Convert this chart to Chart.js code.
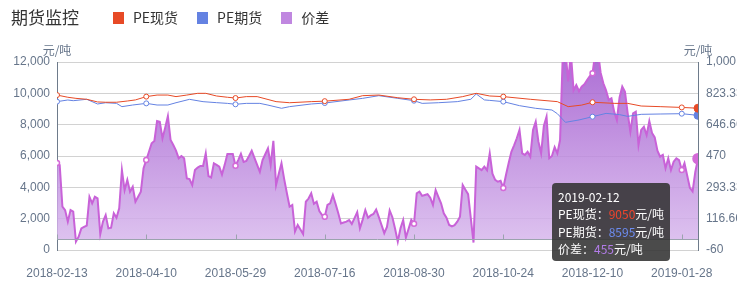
<!DOCTYPE html>
<html>
<head>
<meta charset="utf-8">
<script src="https://cdn.jsdelivr.net/npm/chart.js@4/dist/chart.umd.min.js"></script>
<style>
  html, body { margin: 0; padding: 0; background: #fff; }
  #wrap { position: relative; width: 737px; height: 281px; overflow: hidden; font-family: "Noto Sans CJK SC", "Noto Sans", sans-serif; }
  #chart { position: absolute; left: 0; top: 0; }
  #title { position: absolute; left: 11px; top: 3px; font-size: 17px; line-height: 28px; color: #333; }
  #legend { position: absolute; left: 113px; top: 4px; display: flex; font-size: 14px; line-height: 27px; color: #333; }
  #legend .item { display: flex; align-items: center; margin-right: 19px; }
  #legend .box { width: 11px; height: 12px; margin-right: 9px; }
  #tip { position: absolute; background: rgba(50,50,50,0.88); color: #fff; border-radius: 4px;
         font-size: 12px; line-height: 17.5px; padding: 5px 6px 3px 6px; white-space: nowrap; }
</style>
</head>
<body>
<div id="wrap">
  <canvas id="chart" width="737" height="281"></canvas>
  <div id="title">期货监控</div>
  <div id="legend"></div>
  <div id="tip"></div>
</div>
<script>
// trading-day index of each labelled date, and the labels
const tickDays = [0, 33, 66, 99, 132, 165, 198, 231];
const tickLabels = ["2018-02-13", "2018-04-10", "2018-05-29", "2018-07-16", "2018-08-30", "2018-10-24", "2018-12-10", "2019-01-28"];
const lastDay = 237;
const lastLabel = "2019-02-12";

// PE现货 (元/吨)
const spotDays = [0,4,7,11,15,18,22,26,29,33,37,41,44,48,52,55,59,63,66,70,74,81,86,94,99,108,113,119,126,132,138,144,150,155,160,165,175,185,189,194,198,206,211,216,223,231,237];
const spotPrice = [9890,9750,9680,9620,9450,9430,9430,9510,9580,9790,9890,9890,9790,9890,10000,10000,9830,9750,9700,9790,9790,9470,9400,9470,9500,9620,9850,9890,9720,9620,9580,9620,9790,10000,9830,9790,9620,9470,9150,9250,9430,9360,9360,9190,9150,9100,9050];

// PE期货 (元/吨)
const futDays = [0,4,6,11,15,18,22,24,28,33,37,41,44,49,54,59,63,66,70,75,78,83,86,94,99,108,113,119,126,132,135,141,148,153,155,158,160,165,171,177,183,185,188,193,198,203,208,211,216,223,231,237];
const futPrice = [9470,9575,9530,9620,9320,9400,9360,9150,9255,9360,9255,9255,9400,9617,9468,9404,9360,9300,9360,9360,9250,9045,9150,9320,9380,9575,9680,9850,9680,9530,9360,9400,9470,9620,9960,9580,9550,9470,9213,9043,8936,8700,8150,8300,8510,8720,8640,8530,8660,8680,8700,8595];

// 价差 (元/吨), one value per trading day
const spreadVals = [
  430,419,184,165,100,165,156,-13,15,62,
  70,78,240,203,240,231,30,100,137,62,
  66,147,122,175,391,278,335,269,297,212,
  240,269,401,447,494,542,555,667,663,570,
  630,695,560,532,500,457,470,457,344,340,
  306,391,405,414,414,485,357,349,429,420,
  410,365,420,481,481,481,415,447,482,436,
  442,470,500,460,420,381,447,480,513,420,
  556,306,370,429,340,260,184,194,44,81,
  55,30,212,230,260,200,212,160,137,128,
  194,203,250,200,147,90,95,100,109,87,
  120,153,62,110,165,122,135,143,168,125,
  80,35,70,163,125,60,-13,62,109,10,
  60,110,88,260,269,245,250,255,235,194,
  278,240,203,147,122,81,73,80,100,128,
  306,280,255,120,-18,410,400,390,410,390,
  485,370,335,325,330,290,363,430,494,530,
  570,617,485,476,494,466,617,663,551,485,
  640,692,457,470,520,485,560,1040,1060,890,
  1050,840,870,835,861,874,898,920,936,1050,
  1060,940,880,840,786,795,720,673,800,861,
  832,710,607,711,720,532,617,635,588,667,
  600,575,500,466,476,401,457,391,438,457,
  447,391,430,360,290,270,380,455
];

const spreadTicks = [-60, 116.66, 293.33, 470, 646.66, 823.33, 1000];
const spreadTickLabels = ["-60", "116.66", "293.33", "470", "646.66", "823.33", "1,000"];

const seriesNames = ["PE现货", "PE期货", "价差"];
const seriesColors = ["#e74a26", "#6482e2", "#c087e0"];
const tipColors = ["#f0442c", "#6c8cf0", "#b27ce8"];

const axisColor = "#66758a";
const tickFont = { family: "'Liberation Sans', Arial, sans-serif", size: 12 };

function markerRadius(big) {
  return function (c) {
    const d = c.raw.x;
    if (d === lastDay) return big;
    return tickDays.includes(d) ? 2.5 : 0;
  };
}
function markerFill(color) {
  return function (c) { return c.raw.x === lastDay ? color : "#fff"; };
}

const axisExtras = {
  id: "axisExtras",
  afterDatasetsDraw(chart) {
    const { ctx, chartArea, scales } = chart;
    const y0 = Math.round(scales.y2.getPixelForValue(0)) + 0.5;
    ctx.save();
    ctx.strokeStyle = "#9ba3ae";
    ctx.lineWidth = 1;
    ctx.beginPath();
    ctx.moveTo(chartArea.left, y0);
    ctx.lineTo(chartArea.right, y0);
    tickDays.forEach(function (d) {
      const x = Math.round(scales.x.getPixelForValue(d)) + 0.5;
      ctx.moveTo(x, y0);
      ctx.lineTo(x, y0 - 5);
    });
    ctx.stroke();
    ctx.fillStyle = axisColor;
    ctx.font = "12px 'Noto Sans CJK SC', sans-serif";
    ctx.textAlign = "center";
    ctx.textBaseline = "middle";
    ctx.fillText("元/吨", chartArea.left, chartArea.top - 12);
    ctx.fillText("元/吨", chartArea.right, chartArea.top - 12);
    ctx.restore();
  }
};

const chart = new Chart(document.getElementById("chart"), {
  type: "line",
  data: {
    datasets: [
      {
        label: seriesNames[0],
        data: spotDays.map((d, i) => ({ x: d, y: spotPrice[i] })),
        yAxisID: "y",
        borderColor: seriesColors[0],
        borderWidth: 1,
        pointRadius: markerRadius(4),
        pointBackgroundColor: markerFill(seriesColors[0]),
        pointBorderColor: seriesColors[0],
        pointBorderWidth: 1,
        fill: false
      },
      {
        label: seriesNames[1],
        data: futDays.map((d, i) => ({ x: d, y: futPrice[i] })),
        yAxisID: "y",
        borderColor: seriesColors[1],
        borderWidth: 1,
        pointRadius: markerRadius(4),
        pointBackgroundColor: markerFill(seriesColors[1]),
        pointBorderColor: seriesColors[1],
        pointBorderWidth: 1,
        fill: false
      },
      {
        label: seriesNames[2],
        data: spreadVals.map((v, i) => ({ x: i, y: v })),
        yAxisID: "y2",
        borderColor: "#c862d8",
        borderWidth: 2,
        pointRadius: markerRadius(5),
        pointBackgroundColor: markerFill("#d46ad8"),
        pointBorderColor: "#d46ad8",
        pointBorderWidth: 1.5,
        fill: "origin",
        backgroundColor: function (c) {
          const a = c.chart.chartArea;
          if (!a) return "rgba(180,120,215,0.85)";
          const g = c.chart.ctx.createLinearGradient(0, a.top, 0, a.bottom);
          g.addColorStop(0, "rgba(160,88,206,0.85)");
          g.addColorStop(1, "rgba(218,188,238,0.85)");
          return g;
        }
      }
    ]
  },
  options: {
    responsive: false,
    animation: false,
    events: [],
    layout: { padding: { top: 62, left: 0, right: 0, bottom: 0 } },
    plugins: { legend: { display: false }, tooltip: { enabled: false } },
    scales: {
      x: {
        type: "linear",
        min: 0,
        max: lastDay,
        grid: { display: false },
        border: { display: false },
        afterBuildTicks: s => { s.ticks = tickDays.map(v => ({ value: v })); },
        ticks: {
          autoSkip: false, maxRotation: 0, padding: 8, color: axisColor, font: tickFont,
          callback: v => tickLabels[tickDays.indexOf(v)]
        },
        afterFit: s => { s.height = 31; }
      },
      y: {
        position: "left",
        min: 0,
        max: 12000,
        ticks: { stepSize: 2000, padding: 7, color: axisColor, font: tickFont,
                 callback: v => v.toLocaleString("en-US") },
        grid: { color: "#d2d2d2", drawTicks: false },
        border: { color: "#6e7b8b" },
        afterFit: s => { s.width = 57; }
      },
      y2: {
        position: "right",
        min: -60,
        max: 1000,
        afterBuildTicks: s => { s.ticks = spreadTicks.map(v => ({ value: v })); },
        ticks: { padding: 8, color: axisColor, font: tickFont,
                 callback: (v, i) => spreadTickLabels[i] },
        grid: { display: false, drawTicks: false },
        border: { color: "#6e7b8b" },
        afterFit: s => { s.width = 39; }
      }
    }
  },
  plugins: [axisExtras]
});

// legend
const legend = document.getElementById("legend");
seriesNames.forEach(function (name, i) {
  const item = document.createElement("div");
  item.className = "item";
  item.innerHTML = '<span class="box" style="background:' + seriesColors[i] + '"></span><span>' + name + "</span>";
  legend.appendChild(item);
});

// tooltip shown for the last trading day
const lastSpot = spotPrice[spotPrice.length - 1];
const lastFut = futPrice[futPrice.length - 1];
const lastSpread = spreadVals[spreadVals.length - 1];
const tip = document.getElementById("tip");
tip.innerHTML =
  lastLabel + "<br>" +
  seriesNames[0] + '：<span style="color:' + tipColors[0] + '">' + lastSpot + "</span>元/吨<br>" +
  seriesNames[1] + '：<span style="color:' + tipColors[1] + '">' + lastFut + "</span>元/吨<br>" +
  seriesNames[2] + '：<span style="color:' + tipColors[2] + '">' + lastSpread + "</span>元/吨";
const px = chart.scales.x.getPixelForValue(lastDay);
const py = chart.scales.y2.getPixelForValue(lastSpread);
tip.style.left = (px - 146) + "px";
tip.style.top = (py + 24) + "px";
</script>
</body>
</html>
